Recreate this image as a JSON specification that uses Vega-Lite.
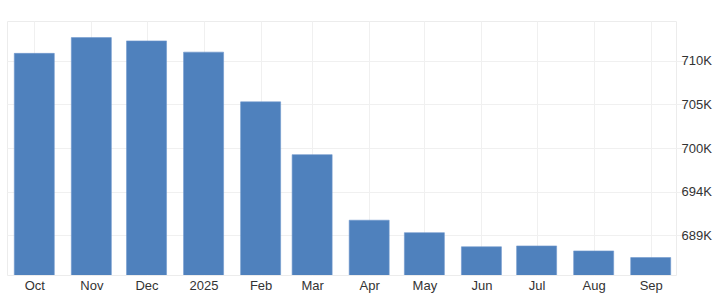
{
  "$schema": "https://vega.github.io/schema/vega-lite/v6.json",
  "width": 669,
  "height": 254,
  "autosize": {"type": "none"},
  "padding": {"left": 7, "top": 21, "right": 45, "bottom": 23},
  "background": "white",
  "config": {
    "view": {"stroke": "#ececec", "strokeWidth": 1},
    "font": "Liberation Sans"
  },
  "data": {
    "values": [
      {"date": "2024-10-01T00:00:00", "value": 710.9},
      {"date": "2024-11-01T00:00:00", "value": 712.8},
      {"date": "2024-12-01T00:00:00", "value": 712.4},
      {"date": "2025-01-01T00:00:00", "value": 711.05},
      {"date": "2025-02-01T00:00:00", "value": 705.06},
      {"date": "2025-03-01T00:00:00", "value": 698.7},
      {"date": "2025-04-01T00:00:00", "value": 690.8},
      {"date": "2025-05-01T00:00:00", "value": 689.3},
      {"date": "2025-06-01T00:00:00", "value": 687.6},
      {"date": "2025-07-01T00:00:00", "value": 687.7},
      {"date": "2025-08-01T00:00:00", "value": 687.1},
      {"date": "2025-09-01T00:00:00", "value": 686.3}
    ]
  },
  "mark": {"type": "bar", "width": 40, "color": "#4f81bd", "stroke": "#6f97cc", "strokeWidth": 0.6, "clip": true},
  "encoding": {
    "x": {
      "field": "date",
      "type": "temporal",
      "scale": {
        "domain": [
          {"year": 2024, "month": 9, "date": 16, "hours": 4},
          {"year": 2025, "month": 9, "date": 14, "hours": 18}
        ],
        "padding": 0,
        "nice": false
      },
      "axis": {
        "title": null,
        "tickCount": {"interval": "month", "step": 1},
        "labelExpr": "month(datum.value) == 0 ? timeFormat(datum.value, '%Y') : timeFormat(datum.value, '%b')",
        "grid": true,
        "gridColor": "#f0f0f0",
        "domain": false,
        "ticks": false,
        "labelPadding": 4,
        "labelFontSize": 13,
        "labelColor": "#333333",
        "labelFlush": false,
        "labelOverlap": false
      }
    },
    "y": {
      "field": "value",
      "type": "quantitative",
      "scale": {"domain": [684.2, 714.8], "zero": false, "nice": false, "padding": 0},
      "axis": {
        "title": null,
        "orient": "right",
        "values": [689, 694.25, 699.5, 704.75, 710],
        "labelExpr": "format(datum.value, '.0f') + 'K'",
        "grid": true,
        "gridColor": "#f0f0f0",
        "domain": false,
        "ticks": true,
        "tickColor": "#f0f0f0",
        "tickSize": 9,
        "labelPadding": -4,
        "labelFontSize": 13,
        "labelColor": "#333333"
      }
    }
  }
}
